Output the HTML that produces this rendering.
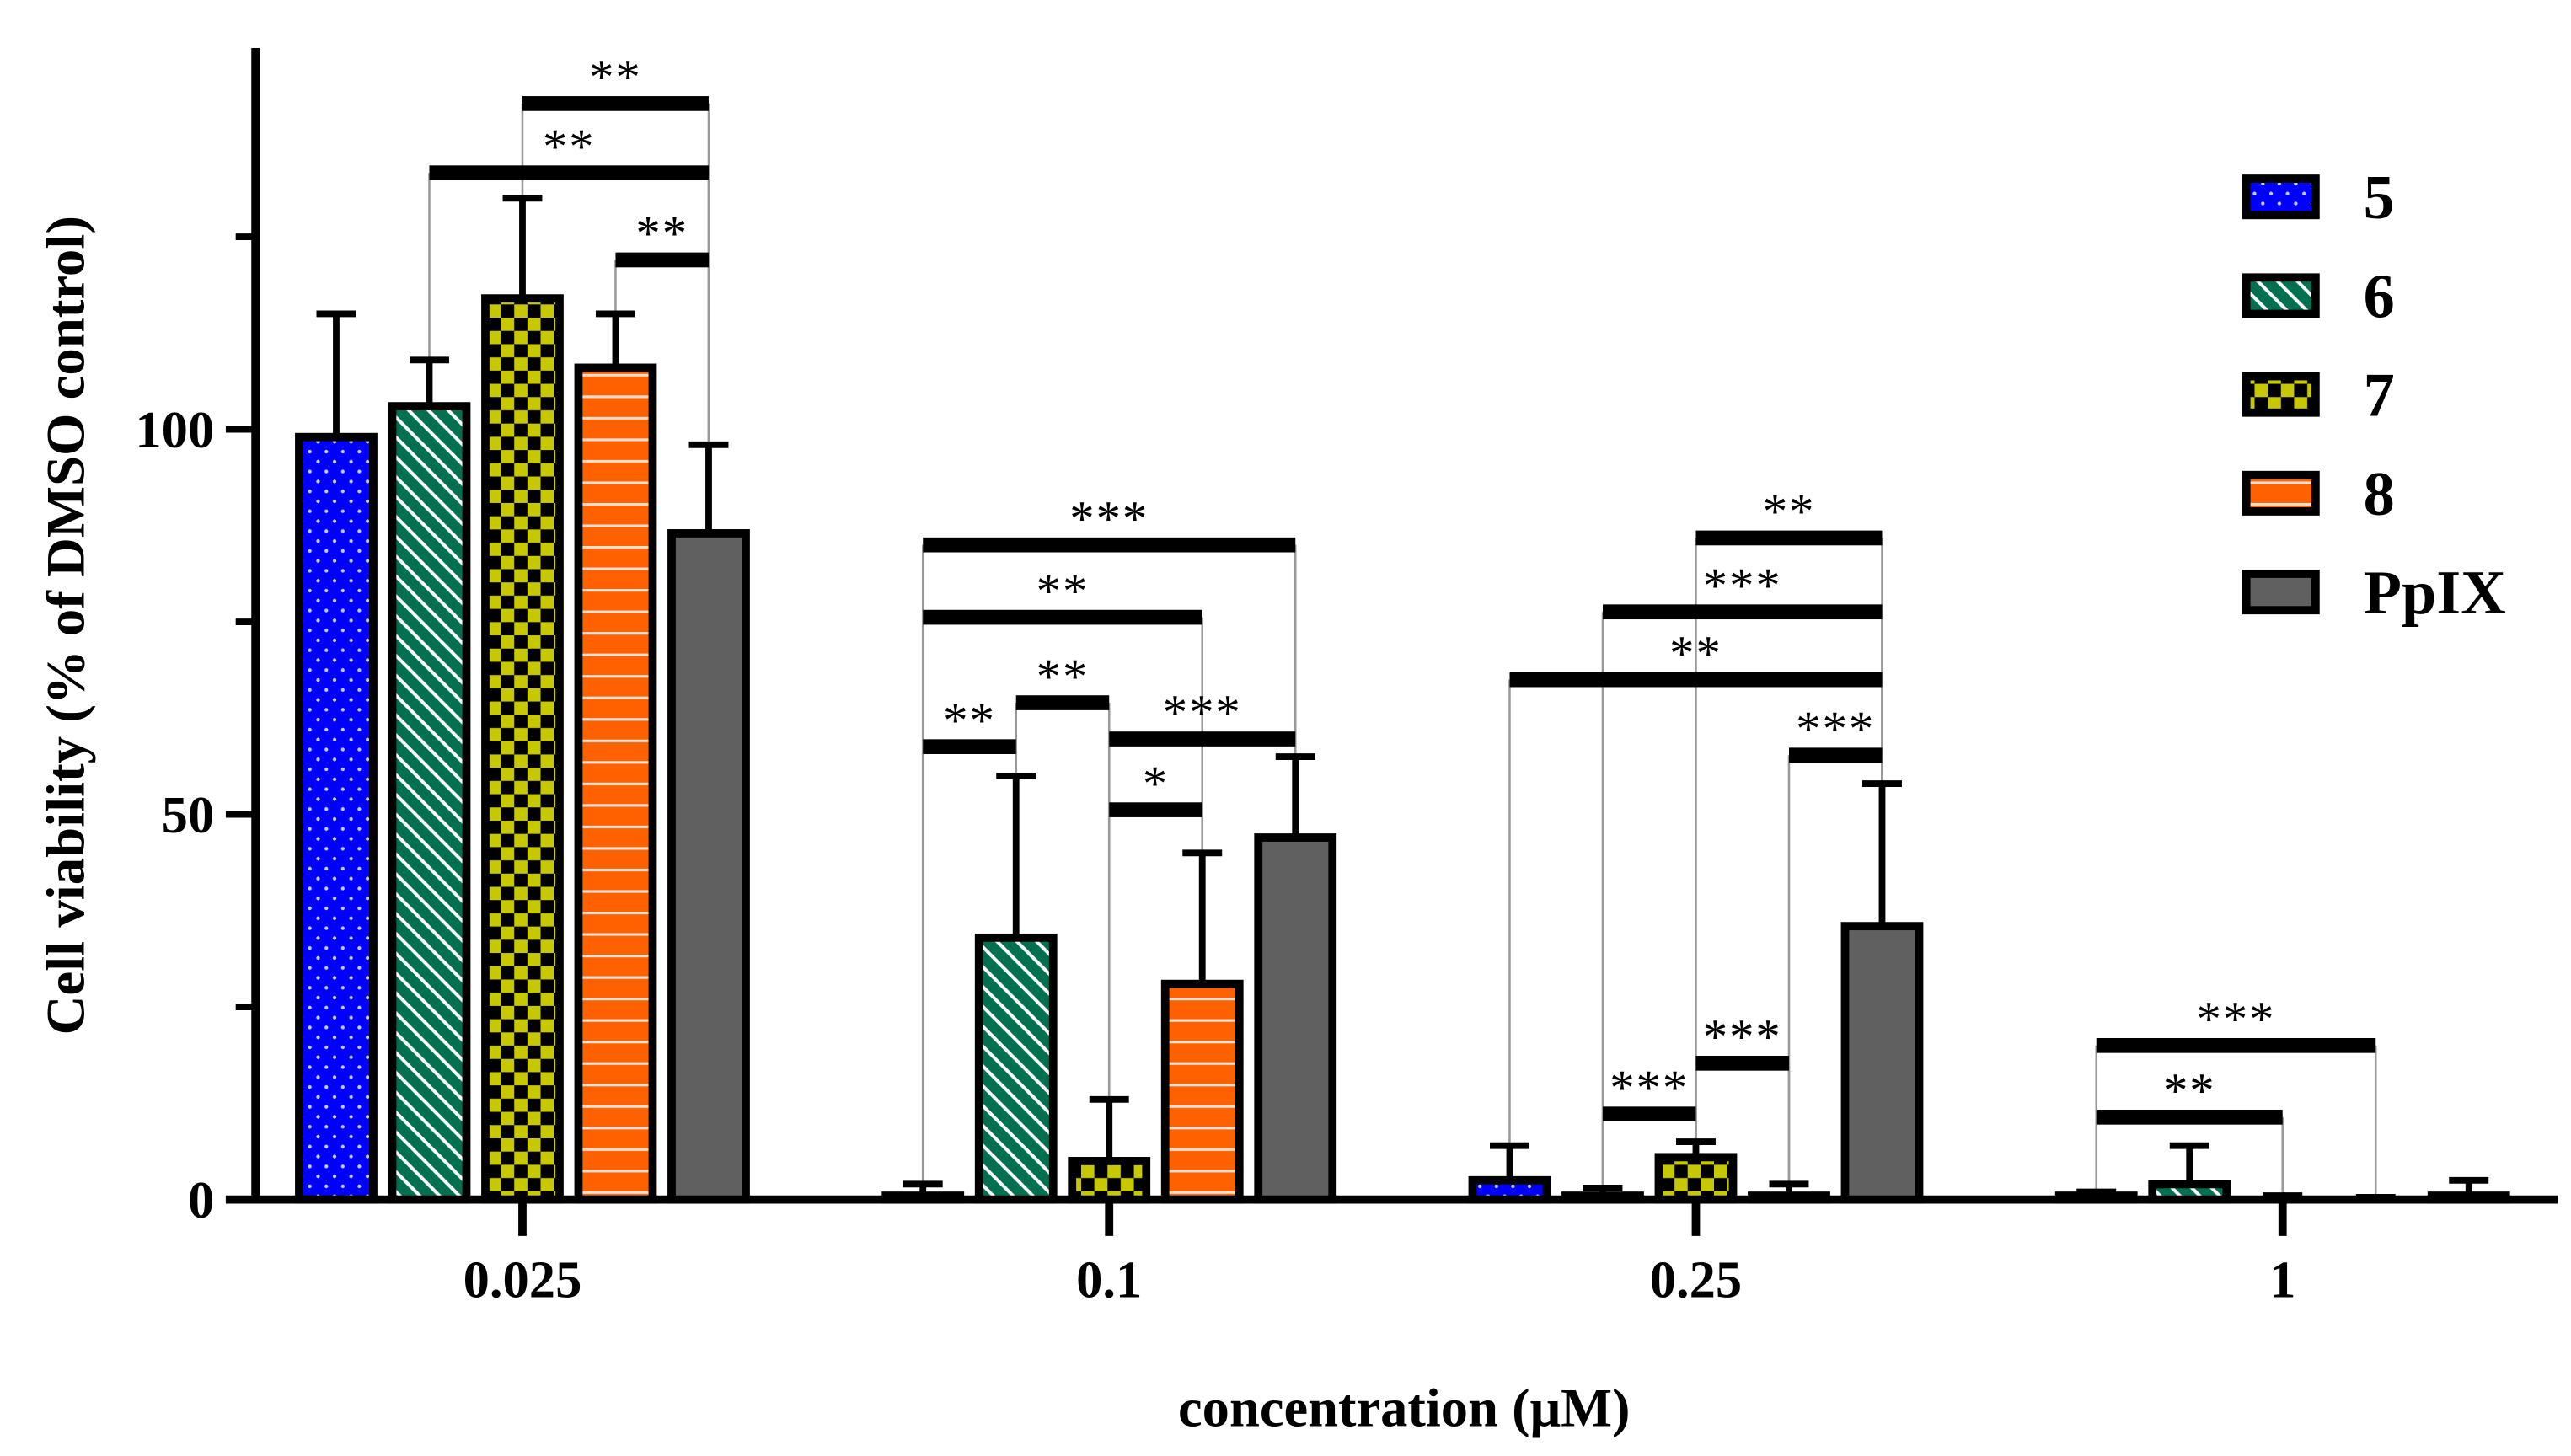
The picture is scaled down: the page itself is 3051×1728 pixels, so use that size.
<!DOCTYPE html>
<html><head><meta charset="utf-8"><style>
html,body{margin:0;padding:0;background:#fff;}
svg{display:block;}
text{font-family:"Liberation Serif",serif;font-weight:bold;fill:#000;}
</style></head><body>
<svg id="chart" width="3051" height="1728" viewBox="0 0 1560 880" preserveAspectRatio="none" xmlns="http://www.w3.org/2000/svg">
<defs>
<pattern id="p0" patternUnits="userSpaceOnUse" width="10" height="12"><rect width="10" height="12" fill="#0000ff"/><circle cx="3" cy="3" r="1.1" fill="#ccccff"/><circle cx="8" cy="9" r="1.1" fill="#ccccff"/></pattern>
<pattern id="p1" patternUnits="userSpaceOnUse" width="12" height="12"><rect width="12" height="12" fill="#007050"/><path d="M-3,-3 L15,15 M-3,9 L3,15 M9,-3 L15,3" stroke="#fff" stroke-width="2"/></pattern>
<pattern id="p2" patternUnits="userSpaceOnUse" width="16" height="16"><rect width="16" height="16" fill="#000"/><rect width="8" height="8" fill="#c8c800"/><rect x="8" y="8" width="8" height="8" fill="#c8c800"/></pattern>
<pattern id="p3" patternUnits="userSpaceOnUse" width="10" height="13"><rect width="10" height="13" fill="#ff6000"/><rect y="5" width="10" height="1.6" fill="#ffe0d0"/></pattern>
<pattern id="p4" patternUnits="userSpaceOnUse" width="10" height="10"><rect width="10" height="10" fill="#606060"/></pattern>
</defs>
<g id="plot"></g>
</svg>
<script>
const categories = ["0.025","0.1","0.25","1"];
const seriesNames = ["5","6","7","8","PpIX"];
const s5    = [99, 0.5, 2.5, 0.5];
const s6    = [103, 34, 0.5, 2];
const s7    = [117, 5, 5.5, 0];
const s8    = [108, 28, 0.5, 0];
const sPp   = [86.5, 47, 35.5, 0.5];
const e5    = [115, 2, 7, 1];
const e6    = [109, 55, 1.5, 7];
const e7    = [130, 13, 7.5, 0.5];
const e8    = [115, 45, 2, 0.3];
const ePp   = [98, 57.5, 54, 2.5];
const yTicks = [0, 50, 100];
const yMinor = [25, 75, 125];
// significance: category index, bar from, bar to, level value, label
const sigGroup = [0,0,0, 1,1,1,1,1,1, 2,2,2,2,2,2, 3,3];
const sigFrom  = [1,2,3, 0,1,2,2,0,0, 0,1,2,3,1,2, 0,0];
const sigTo    = [4,4,4, 1,2,3,4,3,4, 4,4,4,4,2,3, 2,3];
const sigLevel = [133.3,142.3,122, 58.8,64.5,50.6,59.8,75.6,85, 67.5,76.3,85.9,57.7,11.1,17.7, 10.7,20];
const sigLabel = ["**","**","**", "**","**","*","***","**","***", "**","***","**","***","***","***", "**","***"];

const NS="http://www.w3.org/2000/svg";
const g=document.getElementById('plot');
const values=[s5,s6,s7,s8,sPp], errs=[e5,e6,e7,e8,ePp];
const y0=725, pxPerUnit=4.655;
const y=v=>y0-v*pxPerUnit;
const catX=i=>317+i*356;
const barX=(c,s)=>catX(c)+(s-2)*56.5;
const BW=45;
function mk(tag,attrs,parent){const e=document.createElementNS(NS,tag);for(const k in attrs)e.setAttribute(k,attrs[k]);(parent||g).appendChild(e);return e;}

let a=mk('line',{x1:155,y1:29,x2:155,y2:727,stroke:'#000','stroke-width':5});


a=mk('line',{x1:137,y1:y0,x2:1552,y2:y0,stroke:'#000','stroke-width':5});


yTicks.forEach(v=>{
  const t=mk('line',{x1:137,y1:y(v),x2:155,y2:y(v),stroke:'#000','stroke-width':4});
  
  
  const l=mk('text',{x:130,y:y(v)+11,'text-anchor':'end','font-size':32});
  l.textContent=v;
  
  
});
yMinor.forEach(v=>{
  const t=mk('line',{x1:143,y1:y(v),x2:155,y2:y(v),stroke:'#000','stroke-width':4});
  
  
});
categories.forEach((c,i)=>{
  const t=mk('line',{x1:catX(i),y1:y0,x2:catX(i),y2:y0+22,stroke:'#000','stroke-width':5});
  
  
  const l=mk('text',{x:catX(i),y:784,'text-anchor':'middle','font-size':32});
  l.textContent=c;
  
  
});
for(let k=0;k<sigGroup.length;k++){
  const c=sigGroup[k];
  [sigFrom[k],sigTo[k]].forEach(s=>{
    const xx=barX(c,s);
    const ln=mk('line',{x1:xx,y1:y(sigLevel[k]),x2:xx,y2:y(errs[s][c]),stroke:'#999','stroke-width':1.3});
    
    
  });
}
categories.forEach((c,ci)=>{
  values.forEach((arr,si)=>{
    const v=arr[ci], e=errs[si][ci], cx=barX(ci,si);
    const el=mk('line',{x1:cx,y1:y(e),x2:cx,y2:y(v),stroke:'#000','stroke-width':4});
    
    
    const cap=mk('line',{x1:cx-12,y1:y(e),x2:cx+12,y2:y(e),stroke:'#000','stroke-width':4});
    
    
    const h=Math.max(v*pxPerUnit,0);
    const r=mk('rect',{x:cx-BW/2,y:y(v),width:BW,height:h,fill:'url(#p'+si+')',stroke:'#000','stroke-width':5});
    
    
  });
});
for(let k=0;k<sigGroup.length;k++){
  const c=sigGroup[k];
  const x1=barX(c,sigFrom[k]), x2=barX(c,sigTo[k]), yy=y(sigLevel[k]);
  const r=mk('rect',{x:x1,y:yy-4.5,width:x2-x1,height:9,fill:'#000'});
  
  
  const t=mk('text',{x:(x1+x2)/2,y:yy-6,'text-anchor':'middle','font-size':30,'letter-spacing':1});
  t.textContent=sigLabel[k];
  t.style.fontWeight='normal';
  
  
}
seriesNames.forEach((n,i)=>{
  const yy=119+i*59.7;
  const r=mk('rect',{x:1363,y:yy-11,width:42,height:22,fill:'url(#p'+i+')',stroke:'#000','stroke-width':5});
  
  
  const t=mk('text',{x:1434,y:yy+13,'font-size':38});
  t.textContent=n;
  
  
});
let xt=mk('text',{x:852,y:862,'text-anchor':'middle','font-size':33});
xt.textContent='concentration (μM)';


let yt=mk('text',{x:0,y:0,'text-anchor':'middle','font-size':33,transform:'translate(51,378) rotate(-90)'});
yt.textContent='Cell viability (% of DMSO control)';


</script>
</body></html>
